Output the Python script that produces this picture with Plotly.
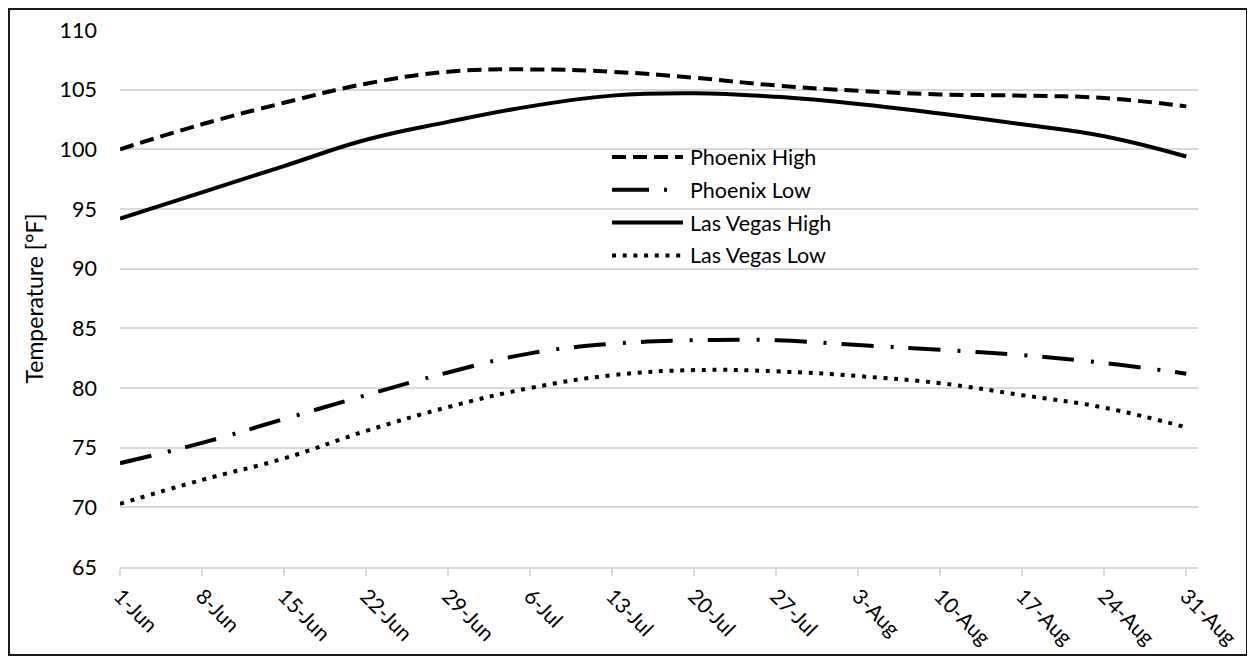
import plotly.graph_objects as go

# weekly sample dates (year is arbitrary, only day-month shown)
dates = ["2023-06-01", "2023-06-08", "2023-06-15", "2023-06-22", "2023-06-29",
         "2023-07-06", "2023-07-13", "2023-07-20", "2023-07-27", "2023-08-03",
         "2023-08-10", "2023-08-17", "2023-08-24", "2023-08-31"]
tick_labels = ["1-Jun", "8-Jun", "15-Jun", "22-Jun", "29-Jun", "6-Jul", "13-Jul",
               "20-Jul", "27-Jul", "3-Aug", "10-Aug", "17-Aug", "24-Aug", "31-Aug"]

phoenix_high = [100.0, 102.1, 103.9, 105.5, 106.5, 106.7, 106.5, 106.0, 105.35, 104.9, 104.6, 104.5, 104.3, 103.6]
phoenix_low = [73.7, 75.4, 77.4, 79.4, 81.3, 82.9, 83.7, 84.0, 84.0, 83.6, 83.2, 82.75, 82.1, 81.2]
vegas_high = [94.2, 96.4, 98.6, 100.8, 102.3, 103.6, 104.5, 104.7, 104.4, 103.8, 103.0, 102.1, 101.1, 99.4]
vegas_low = [70.3, 72.3, 74.1, 76.4, 78.4, 80.0, 81.07, 81.5, 81.4, 81.0, 80.4, 79.4, 78.35, 76.7]

series = [
    ("Phoenix High", phoenix_high, "14px,7px"),
    ("Phoenix Low", phoenix_low, "32px,17px,3px,15px"),
    ("Las Vegas High", vegas_high, "solid"),
    ("Las Vegas Low", vegas_low, "4px,6.7px"),
]
legend_dash = {"Phoenix Low": "37px,15px,3px,40px"}
LW = 4

# the page body has an 8px margin, so the figure starts 8px in from the window corner
OFF = 8
W, H = 1255 - OFF, 658 - OFF
L, R, T, B = 120 - OFF, 1198 - OFF, 30 - OFF, 567 - OFF
FONT = "Lato, Carlito, Calibri, sans-serif"

def px(x, y):
    # window pixel -> paper coords
    x, y = x - OFF, y - OFF
    return (x - L) / (R - L), (B - y) / (B - T)

fig = go.Figure()
for name, vals, dash in series:
    fig.add_trace(go.Scatter(x=dates, y=vals, mode="lines", name=name,
                             line=dict(color="black", width=LW, dash=dash,
                                       shape="spline", smoothing=1.2),
                             showlegend=False))

# legend drawn by hand so the line samples are long like the original
shapes = []
annotations = []
for i, (name, vals, dash) in enumerate(series):
    yy = 157 + i * 32.8
    x0, y0 = px(612, yy)
    x1, _ = px(683, yy)
    shapes.append(dict(type="line", xref="paper", yref="paper", x0=x0, x1=x1, y0=y0, y1=y0,
                       line=dict(color="black", width=LW, dash=legend_dash.get(name, dash))))
    tx, _ = px(688, yy)
    annotations.append(dict(text=name, xref="paper", yref="paper", x=tx, y=y0,
                            xanchor="left", yanchor="middle", showarrow=False,
                            font=dict(size=21.5, color="black", family=FONT)))

# outer border
bx0, by0 = px(OFF + 1, OFF + 1)
bx1, by1 = px(1247, 655)
shapes.append(dict(type="rect", xref="paper", yref="paper", x0=bx0, x1=bx1, y0=by1, y1=by0,
                   line=dict(color="#1a1a1a", width=2)))

fig.update_layout(
    width=W, height=H,
    margin=dict(l=L, r=W - R, t=T, b=H - B, autoexpand=False),
    plot_bgcolor="white", paper_bgcolor="white",
    font=dict(family=FONT, size=21.5, color="black"),
    shapes=shapes, annotations=annotations,
    showlegend=False,
)
fig.update_xaxes(range=["2023-06-01", "2023-09-01"], tickvals=dates, ticktext=tick_labels,
                 tickangle=45, showgrid=False, showline=True, linecolor="#d9d9d9", linewidth=1.5,
                 ticks="outside", ticklen=7, tickcolor="#d9d9d9", tickwidth=1.5,
                 tickfont=dict(size=21))
fig.update_yaxes(range=[65, 110], dtick=5, showgrid=True, gridcolor="#d9d9d9", gridwidth=1.5,
                 zeroline=False, showline=False, ticks="", ticklabelstandoff=22,
                 title=dict(text="Temperature [°F]", standoff=9, font=dict(size=23)),
                 tickfont=dict(size=21.5))

fig.write_html("out.html")
